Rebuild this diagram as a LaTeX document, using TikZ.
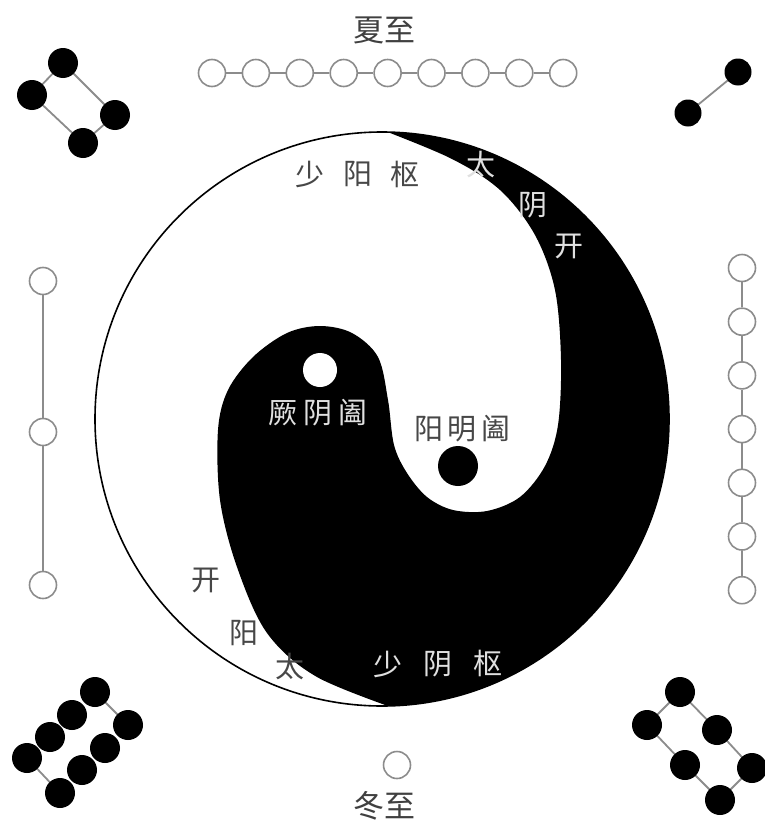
\documentclass[tikz,border=0pt]{standalone}
\usepackage{fontspec}
\newfontfamily\cjk{Noto Sans CJK SC}
\begin{document}
\begin{tikzpicture}[x=1pt,y=-1pt,
  bdot/.style={circle,fill=black,minimum size=30,inner sep=0},
  sdot/.style={circle,fill=black,minimum size=27,inner sep=0},
  wdot/.style={circle,draw=black!45,line width=1.6,fill=white,minimum size=27,inner sep=0},
  link/.style={draw=black!45,line width=1.8},
  dtext/.style={font=\cjk\fontsize{29}{29}\selectfont,text=black!72,inner sep=0},
  ltext/.style={font=\cjk\fontsize{29}{29}\selectfont,text=black!12,inner sep=0},
  ttext/.style={font=\cjk\fontsize{31}{31}\selectfont,text=black!75,inner sep=0}]
\useasboundingbox (0,0) rectangle (764,827);
\fill[white] (0,0) rectangle (764,827);

% taiji
\coordinate (C) at (382,419);
\fill[white] (C) circle (287);
\begin{scope}
\clip (C) circle (287);
\fill[black] plot[smooth,tension=0.55] coordinates {
 (372,126) (450,158) (500,190) (535,235) (555,290) (561,360) (558,425)
 (545,466) (520,497) (487,511) (453,510) (427,497) (407,473) (394,445)
 (388,400) (378,357) (352,333) (320,326) (287,333) (253,357) (228,390)
 (218,430) (220,500) (237,567) (267,633) (317,677) (405,712)}
 -- (720,720) -- (720,110) -- cycle;
\end{scope}
\draw[line width=1.6] (C) circle (287);
\node[circle,fill=white,minimum size=34,inner sep=0] (wd) at (320,370) {};
\node[circle,fill=black,minimum size=40,inner sep=0] (bd) at (458,466) {};

% texts in taiji
\node[dtext] (sy1) at (310,174) {少};
\node[dtext] (sy2) at (358,174) {阳};
\node[dtext] (sy3) at (405,174) {枢};
\node[ltext] (ty1) at (481,165) {太};
\node[ltext] (ty2) at (533,205) {阴};
\node[ltext] (ty3) at (569,246) {开};
\node[ltext] (jy1) at (283,413) {厥};
\node[ltext] (jy2) at (318,413) {阴};
\node[ltext] (jy3) at (353,413) {阖};
\node[dtext] (ym1) at (429,429) {阳};
\node[dtext] (ym2) at (462,429) {明};
\node[dtext] (ym3) at (496,429) {阖};
\node[dtext] (ka1) at (206,580) {开};
\node[dtext] (ka2) at (244,633) {阳};
\node[dtext] (ka3) at (290,667) {太};
\node[ltext] (sx1) at (388,664) {少};
\node[ltext] (sx2) at (438,664) {阴};
\node[ltext] (sx3) at (488,663) {枢};

% solstices
\node[ttext] (xz) at (384,30) {夏至};
\node[ttext] (dz) at (384,806) {冬至};

% top chain (9)
\foreach \i in {0,...,8} {
  \node[wdot] (t\i) at ({212+43.9*\i},73) {};
}
\foreach \i [evaluate=\i as \j using int(\i+1)] in {0,...,7} {
  \draw[link] (t\i) -- (t\j);
}
% left chain (3)
\node[wdot] (l0) at (43,281) {};
\node[wdot] (l1) at (43,432) {};
\node[wdot] (l2) at (43,585) {};
\draw[link] (l0) -- (l1);
\draw[link] (l1) -- (l2);
% right chain (7)
\foreach \i in {0,...,6} {
  \node[wdot] (r\i) at (742,{268+53.7*\i}) {};
}
\foreach \i [evaluate=\i as \j using int(\i+1)] in {0,...,5} {
  \draw[link] (r\i) -- (r\j);
}
% bottom single
\node[wdot] (b0) at (397,765) {};

% top-left cluster
\coordinate (tlA) at (63,63);
\coordinate (tlB) at (32,95);
\coordinate (tlC) at (83,143);
\coordinate (tlD) at (115,115);
\draw[link] (tlA) -- (tlB) -- (tlC) -- (tlD) -- cycle;
\node[bdot] (q1) at (tlA) {};
\node[bdot] (q2) at (tlB) {};
\node[bdot] (q3) at (tlC) {};
\node[bdot] (q4) at (tlD) {};

% top-right pair
\draw[link] (738,72) coordinate (trA) -- (688,113) coordinate (trB);
\node[sdot] (p1) at (trA) {};
\node[sdot] (p2) at (trB) {};

% bottom-left cluster (8)
\coordinate (bl1) at (95,692);
\coordinate (bl2) at (72,715);
\coordinate (bl3) at (50,737);
\coordinate (bl4) at (27,758);
\coordinate (bl5) at (60,793);
\coordinate (bl6) at (82,770);
\coordinate (bl7) at (105,748);
\coordinate (bl8) at (128,725);
\draw[link] (bl1) -- (bl8);
\draw[link] (bl4) -- (bl5);
\foreach \k in {1,...,8} { \node[bdot] (n\k) at (bl\k) {}; }

% bottom-right cluster (6)
\coordinate (br1) at (680,692);
\coordinate (br2) at (647,725);
\coordinate (br3) at (685,765);
\coordinate (br4) at (720,800);
\coordinate (br5) at (752,768);
\coordinate (br6) at (717,730);
\draw[link] (br1) -- (br2) -- (br3) -- (br4) -- (br5) -- (br6) -- cycle;
\foreach \k in {1,...,6} { \node[bdot] (m\k) at (br\k) {}; }
\end{tikzpicture}
\end{document}
